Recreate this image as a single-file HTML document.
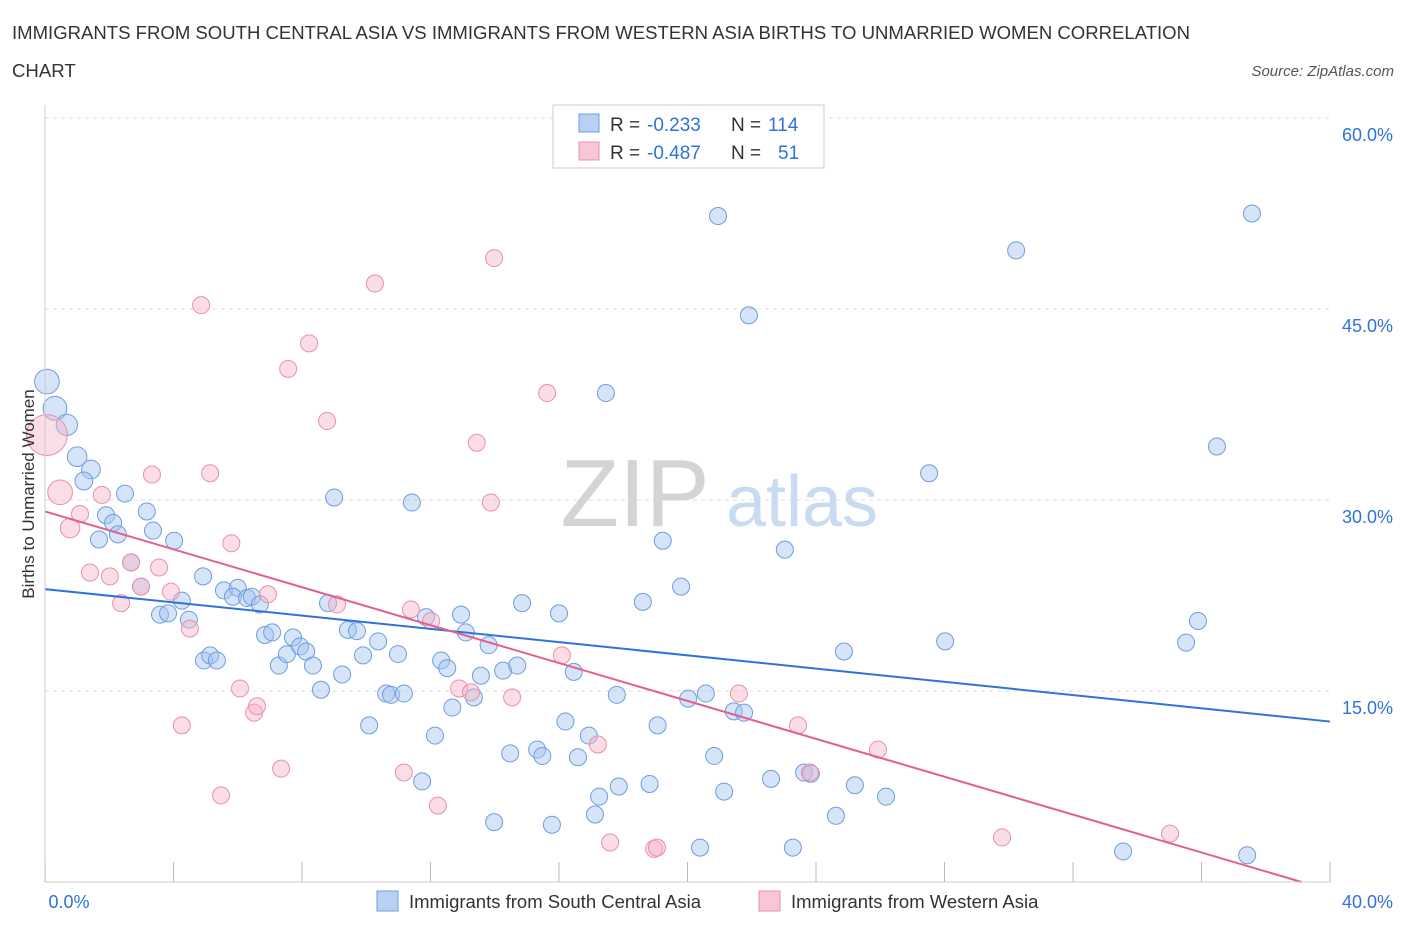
<!DOCTYPE html>
<html><head><meta charset="utf-8"><style>
body{margin:0;background:#fff;font-family:"Liberation Sans",sans-serif;}
svg text{font-family:"Liberation Sans",sans-serif;}
</style></head><body>
<svg id="chart" width="1406" height="930" xmlns="http://www.w3.org/2000/svg">
<text x="12" y="39" font-size="18.6" fill="#333" textLength="1178" lengthAdjust="spacingAndGlyphs">IMMIGRANTS FROM SOUTH CENTRAL ASIA VS IMMIGRANTS FROM WESTERN ASIA BIRTHS TO UNMARRIED WOMEN CORRELATION</text>
<text x="12" y="77" font-size="18.6" fill="#333">CHART</text>
<text x="1394" y="76" font-size="15" fill="#555" text-anchor="end" font-style="italic">Source: ZipAtlas.com</text>
<g id="grid"></g>
<g>
<text x="635" y="526" font-size="96" fill="#d4d4d4" text-anchor="middle" font-family="Liberation Serif,serif">ZIP</text>
<text x="802" y="526" font-size="72" fill="#c9daf3" text-anchor="middle">atlas</text>
</g>
<g id="pts"></g>
<g id="lines"></g>
<g id="ticks"></g>
<text transform="translate(34,494) rotate(-90)" font-size="17" fill="#333" text-anchor="middle">Births to Unmarried Women</text>
<g>
<rect x="553" y="105" width="271" height="63" fill="#fff" stroke="#ccc"/>
<rect x="579" y="114" width="20" height="18" fill="#b8d1f3" stroke="#6d9de0"/>
<rect x="579" y="142" width="20" height="18" fill="#f8c6d4" stroke="#e890ab"/>
<text x="610" y="131" font-size="19" fill="#333">R =</text>
<text x="647" y="131" font-size="19" fill="#2f73d8">-0.233</text>
<text x="731" y="131" font-size="19" fill="#333">N =</text>
<text x="768" y="131" font-size="19" fill="#2f73d8">114</text>
<text x="610" y="159" font-size="19" fill="#333">R =</text>
<text x="647" y="159" font-size="19" fill="#2f73d8">-0.487</text>
<text x="731" y="159" font-size="19" fill="#333">N =</text>
<text x="778" y="159" font-size="19" fill="#2f73d8">51</text>
</g>
<g>
<rect x="377" y="891" width="21" height="20" fill="#b8d1f3" stroke="#6d9de0"/>
<text x="409" y="908" font-size="18.5" fill="#333">Immigrants from South Central Asia</text>
<rect x="759" y="891" width="21" height="20" fill="#f8c6d4" stroke="#e890ab"/>
<text x="791" y="908" font-size="18.5" fill="#333">Immigrants from Western Asia</text>
</g>
</svg>
<script>
const blueX=[0.06,0.31,0.68,1.0,1.43,1.21,2.49,1.9,2.12,1.68,2.27,3.17,3.36,4.02,2.68,2.99,4.92,4.26,3.58,3.83,4.48,4.95,5.14,5.35,5.57,6.0,5.85,6.29,6.44,6.69,6.85,7.07,7.72,7.28,7.53,7.94,8.13,8.34,8.59,8.81,9.0,9.25,9.43,9.71,9.9,10.09,10.37,10.62,10.77,10.99,11.17,11.42,11.74,11.86,12.14,12.33,12.52,12.68,12.95,13.1,13.35,13.57,13.81,13.98,14.26,14.48,14.7,14.85,15.32,15.48,15.78,16.0,16.2,16.46,16.59,16.93,17.12,17.25,17.46,17.8,17.86,18.61,18.82,19.07,19.23,19.8,20.02,20.39,20.57,20.83,20.95,21.14,21.44,21.76,21.91,22.6,23.03,23.28,23.63,23.84,24.62,24.87,25.21,26.18,27.52,28.02,30.23,33.56,35.52,35.89,36.48,37.42,37.57];
const blueY=[39.3,37.2,35.9,33.4,32.4,31.5,30.5,28.8,28.2,26.9,27.3,29.1,27.6,26.8,25.1,23.2,24.0,22.1,21.0,21.1,20.6,17.4,17.8,17.4,22.9,23.1,22.4,22.3,22.4,21.8,19.4,19.6,19.2,17.0,17.9,18.5,18.1,17.0,15.1,21.9,30.2,16.3,19.8,19.7,17.8,12.3,18.9,14.8,14.7,17.9,14.8,29.8,7.9,20.8,11.5,17.4,16.8,13.7,21.0,19.6,14.5,16.2,18.6,4.7,16.6,10.1,17.0,21.9,10.4,9.9,4.5,21.1,12.6,16.5,9.8,11.5,5.3,6.7,38.4,14.7,7.5,22.0,7.7,12.3,26.8,23.2,14.4,2.7,14.8,9.9,52.3,7.1,13.4,13.3,44.5,8.1,26.1,2.7,8.6,8.5,5.2,18.1,7.6,6.7,32.1,18.9,49.6,2.4,18.8,20.5,34.2,2.1,52.5];
const blueSize=[1.45,1.4,1.25,1.15,1.1,1.05];
const pinkX=[0.06,0.47,0.78,1.09,1.4,1.77,2.02,2.37,2.68,2.99,3.33,3.55,3.92,4.26,4.51,4.86,5.14,5.48,5.8,6.07,6.51,6.6,6.94,7.35,7.57,8.22,8.78,9.09,10.27,11.17,11.39,12.02,12.23,12.89,13.26,13.44,13.88,13.98,14.54,15.63,16.09,17.21,17.59,18.96,19.05,21.6,23.44,23.81,25.93,29.79,35.02];
const pinkY=[35.1,30.6,27.8,28.9,24.3,30.4,24.0,21.9,25.1,23.2,32.0,24.7,22.8,12.3,19.9,45.3,32.1,6.8,26.6,15.2,13.3,13.8,22.6,8.9,40.3,42.3,36.2,21.8,47.0,8.6,21.4,20.5,6.0,15.2,14.9,34.5,29.8,49.0,14.5,38.4,17.8,10.8,3.1,2.6,2.7,14.8,12.3,8.6,10.4,3.5,3.8];
const pinkSize=[2.4,1.45,1.15];
const blueTrend=[23.0,-0.26];
const pinkTrend=[29.1,-0.744];
const xTicks=[0,40];
const yTicks=[15,30,45,60];
const NS="http://www.w3.org/2000/svg";
const X=v=>45+v/40*1285, Y=v=>882-v/60*764;
function mk(t,a,p){const e=document.createElementNS(NS,t);for(const k in a)e.setAttribute(k,a[k]);p.appendChild(e);return e;}
const grid=document.getElementById('grid'),ticks=document.getElementById('ticks'),pts=document.getElementById('pts'),lines=document.getElementById('lines');
yTicks.forEach(v=>{const l=mk('line',{x1:45,x2:1330,y1:Y(v),y2:Y(v),stroke:'#ddd','stroke-dasharray':'4,4'},grid);


const t=mk('text',{x:1393,y:Y(v)+23,'font-size':18,fill:'#2f73d8','text-anchor':'end'},ticks);t.textContent=v.toFixed(1)+'%';

});
const ax=mk('line',{x1:45,x2:45,y1:105,y2:882,stroke:'#ccc'},ticks);


const bx=mk('line',{x1:45,x2:1330,y1:882,y2:882,stroke:'#ccc'},ticks);


for(let i=0;i<=10;i++){const tk=mk('line',{x1:X(i*4),x2:X(i*4),y1:862,y2:882,stroke:'#bbb'},ticks);

}
xTicks.forEach((v,i)=>{const t=mk('text',{x:X(v)+(i?63:24),y:908,'font-size':18,fill:'#2f73d8','text-anchor':i?'end':'middle'},ticks);t.textContent=v.toFixed(1)+'%';

});
function series(xs,ys,sz,fill,stroke,name){xs.forEach((x,i)=>{const r=8.5*(sz[i]||1);const c=mk('circle',{cx:X(x),cy:Y(ys[i]),r:r,fill:fill,stroke:stroke,'stroke-width':1},pts);

});}
series(blueX,blueY,blueSize,'rgba(164,196,240,0.45)','#6d9de0','point-south-central-asia');
series(pinkX,pinkY,pinkSize,'rgba(246,180,200,0.45)','#e890ab','point-western-asia');
const bl=mk('line',{x1:X(0),y1:Y(blueTrend[0]),x2:X(40),y2:Y(blueTrend[0]+blueTrend[1]*40),stroke:'#2f73d8','stroke-width':2},lines);


const pend=-pinkTrend[0]/pinkTrend[1];
const pl=mk('line',{x1:X(0),y1:Y(pinkTrend[0]),x2:X(pend),y2:Y(0),stroke:'#e0608f','stroke-width':2},lines);


</script>
</body></html>
